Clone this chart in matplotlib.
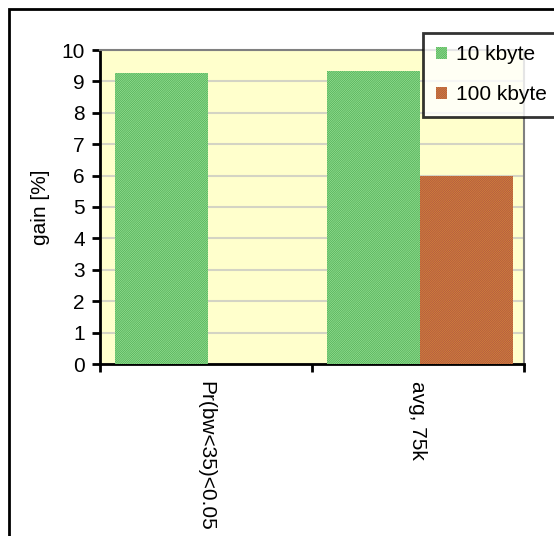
import matplotlib
matplotlib.use("Agg")
import matplotlib.pyplot as plt
from matplotlib.patches import Rectangle
import numpy as np

categories = ["Pr(bw<35)<0.05", "avg, 75k"]
series_names = ["10 kbyte", "100 kbyte"]
gain_10k = [9.26, 9.33]
gain_100k = [0.0, 6.0]
y_ticks = list(range(0, 11))

plt.rcParams["font.family"] = ["Liberation Sans", "DejaVu Sans"]
plt.rcParams["hatch.linewidth"] = 0.6

fig = plt.figure(figsize=(5.54, 5.36), dpi=100)
fig.patch.set_facecolor("white")

# outer chart frame (runs off the right and bottom edges)
fig.patches.append(Rectangle((9 / 554, -0.1), 1.2, 1 - 9 / 536 + 0.1,
                             transform=fig.transFigure, fill=False,
                             edgecolor="black", linewidth=2, zorder=0))

ax = fig.add_axes([100 / 554, 1 - 364 / 536, 424 / 554, 314 / 536])
ax.set_facecolor("#FFFFCC")

x = np.arange(len(categories))
w = 0.44
ax.bar(x - w / 2 + 0.01, gain_10k, width=w, color="#2a9a38", edgecolor="#9ee298",
       hatch="/" * 18, linewidth=0, label=series_names[0], zorder=3)
ax.bar(x + w / 2 + 0.01, gain_100k, width=w, color="#f0a22c", edgecolor="#a85048",
       hatch="/" * 18, linewidth=0, label=series_names[1], zorder=3)

ax.set_xlim(-0.5, len(categories) - 0.5)
ax.set_ylim(0, 10)
ax.set_yticks(y_ticks)
ax.set_yticklabels([str(t) for t in y_ticks], fontsize=15)
ax.yaxis.grid(True, color="#d4d4c4", linewidth=1.5, zorder=0)
ax.set_axisbelow(True)

ax.set_xticks(np.arange(-0.5, len(categories)), minor=False)
ax.set_xticklabels([])
ax.tick_params(axis="x", length=6, width=2, direction="out")
ax.tick_params(axis="y", length=6, width=2, direction="out", pad=5)
for xi, lab in zip(x, categories):
    ax.text(xi, -0.55, lab, rotation=-90, ha="center", va="top", fontsize=15,
            transform=ax.transData)

ax.set_ylabel("gain [%]", fontsize=15, labelpad=8)

for side in ("left", "bottom"):
    ax.spines[side].set_color("black")
    ax.spines[side].set_linewidth(2)
for side in ("top", "right"):
    ax.spines[side].set_color("#808080")
    ax.spines[side].set_linewidth(1.5)

leg = fig.legend(loc="upper left", bbox_to_anchor=(423 / 554, 1 - 33 / 536),
                 fontsize=15, frameon=True, fancybox=False, edgecolor="black",
                 handlelength=0.55, handleheight=0.55, handletextpad=0.45,
                 labelspacing=1.0, borderpad=0.6, borderaxespad=0)
leg.get_frame().set_linewidth(2)

fig.savefig("out.png", dpi=100)
